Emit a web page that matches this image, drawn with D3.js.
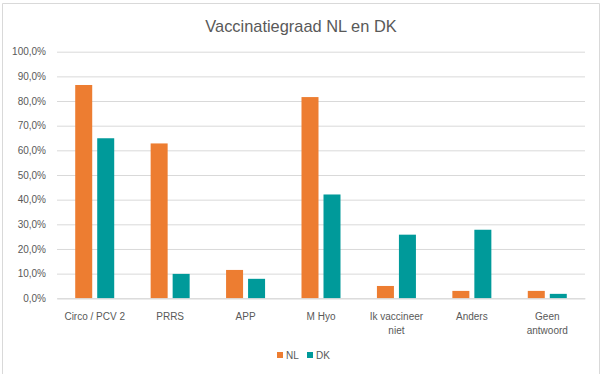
<!DOCTYPE html>
<html>
<head>
<meta charset="utf-8">
<script src="https://cdn.jsdelivr.net/npm/d3@7"></script>
<style>
  html, body { margin: 0; padding: 0; background: #fff; }
  svg { display: block; font-family: "Liberation Sans", Arial, sans-serif; }
</style>
</head>
<body>
<svg id="chart" width="606" height="390"></svg>
<script>
const categories = [["Circo / PCV 2"], ["PRRS"], ["APP"], ["M Hyo"], ["Ik vaccineer", "niet"], ["Anders"], ["Geen", "antwoord"]];
const seriesNames = ["NL", "DK"];
const valuesNL = [86.5, 62.8, 11.5, 81.6, 5.0, 3.0, 3.0];
const valuesDK = [64.9, 9.9, 7.9, 42.1, 25.8, 27.8, 1.8];
const yTicks = [0, 10, 20, 30, 40, 50, 60, 70, 80, 90, 100];
const colors = ["#ED7D31", "#009A9A"];
const titleText = "Vaccinatiegraad NL en DK";

(function () {
const svg = d3.select("#chart");
const textColor = "#595959";

// outer border (bottom edge cropped in reference)
svg.append("path")
  .attr("d", "M2.5,374 L2.5,3.5 L599.5,3.5 L599.5,374")
  .attr("fill", "none").attr("stroke", "#D9D9D9").attr("stroke-width", 1);

const pLeft = 57, pRight = 585, pTop = 51.7, pBottom = 298.3;
const catKeys = categories.map(c => c.join(" "));
const x = d3.scaleBand().domain(catKeys).range([pLeft, pRight]).paddingInner(0).paddingOuter(0);
const x1 = d3.scaleBand().domain(seriesNames).range([-19.5, 19.5]).paddingInner(5/22).paddingOuter(0);
const y = d3.scaleLinear().domain([0, 100]).range([pBottom, pTop]);

// gridlines
const grid = svg.append("g").attr("transform", `translate(${pLeft},0)`)
  .call(d3.axisLeft(y).tickValues(yTicks).tickSize(-(pRight - pLeft)).tickFormat(""));
grid.select(".domain").remove();
grid.selectAll("line").attr("stroke", "#D9D9D9").attr("stroke-width", 1);

// y labels
const yAxis = svg.append("g").attr("transform", `translate(${pLeft},0)`)
  .call(d3.axisLeft(y).tickValues(yTicks).tickSize(0).tickPadding(11)
    .tickFormat(d => d.toFixed(1).replace(".", ",") + "%"));
yAxis.select(".domain").remove();
yAxis.selectAll("text").attr("fill", textColor).style("font-size", "10px")
  .style("font-family", "Liberation Sans, Arial, sans-serif");

// bars
const data = catKeys.map((k, i) => ({ key: k, vals: [valuesNL[i], valuesDK[i]] }));
const groups = svg.append("g").selectAll("g").data(data).join("g")
  .attr("transform", d => `translate(${x(d.key) + x.bandwidth() / 2},0)`);
groups.selectAll("rect").data(d => d.vals.map((v, j) => ({ s: seriesNames[j], v, j })))
  .join("rect")
  .attr("x", d => x1(d.s))
  .attr("width", x1.bandwidth())
  .attr("y", d => y(d.v))
  .attr("height", d => y(0) - y(d.v))
  .attr("fill", d => colors[d.j]);

// baseline axis
const xAxis = svg.append("g").attr("transform", `translate(0,${pBottom})`)
  .call(d3.axisBottom(x).tickSize(0).tickFormat(""));
xAxis.select(".domain").attr("stroke", "#D9D9D9");

// category labels
const catLabels = svg.append("g");
categories.forEach((lines, i) => {
  const cx = x(catKeys[i]) + x.bandwidth() / 2;
  const t = catLabels.append("text")
    .attr("x", cx)
    .attr("y", 319.5)
    .attr("text-anchor", "middle")
    .attr("fill", textColor)
    .style("font-size", "10px");
  lines.forEach((ln, li) => {
    t.append("tspan").attr("x", cx).attr("dy", li === 0 ? 0 : 14).text(ln);
  });
});

// title
svg.append("text").attr("x", 301).attr("y", 31.5).attr("text-anchor", "middle")
  .attr("fill", textColor).style("font-size", "16.4px").text(titleText);

// legend
const legendX = [277, 307];
seriesNames.forEach((s, i) => {
  svg.append("rect").attr("x", legendX[i]).attr("y", 352).attr("width", 6).attr("height", 6)
    .attr("fill", colors[i]);
  svg.append("text").attr("x", legendX[i] + 9).attr("y", 358.5).attr("fill", textColor)
    .style("font-size", "10px").text(s);
});
})();
</script>
</body>
</html>
